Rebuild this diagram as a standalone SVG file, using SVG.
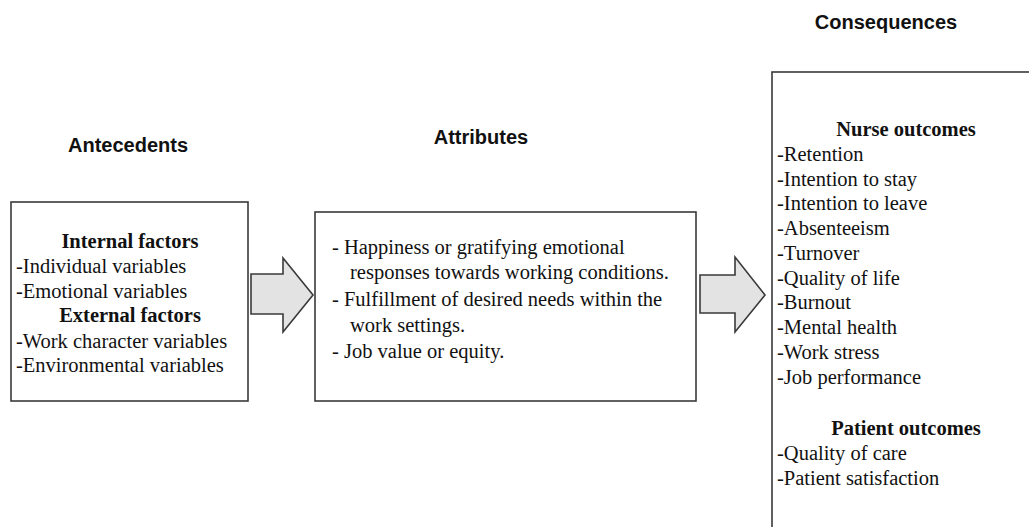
<svg xmlns="http://www.w3.org/2000/svg" width="1029" height="527" viewBox="0 0 1029 527">
<style>
.box{fill:#fff;stroke:#3a3a3a;stroke-width:1.6}
.arr{fill:#e3e3e3;stroke:#3a3a3a;stroke-width:1.6;stroke-linejoin:miter}
.h{font-family:"Liberation Sans",Arial,sans-serif;font-weight:bold;font-size:20px;fill:#111;text-anchor:middle}
.t{font-family:"Liberation Serif","Times New Roman",serif;font-size:20.5px;fill:#111}
.b{font-weight:bold;text-anchor:middle}
</style>
<rect width="1029" height="527" fill="#fff"/>
<text class="h" x="886" y="29">Consequences</text>
<text class="h" x="128" y="152">Antecedents</text>
<text class="h" x="481" y="144">Attributes</text>
<g id="antecedents">
<rect class="box" x="11" y="202" width="237" height="199"/>
<text class="t b" x="130" y="248">Internal  factors</text>
<text class="t" x="16" y="273">-Individual  variables</text>
<text class="t" x="16" y="298">-Emotional  variables</text>
<text class="t b" x="130" y="322">External factors</text>
<text class="t" x="16" y="348">-Work  character  variables</text>
<text class="t" x="16" y="372">-Environmental  variables</text>
</g>
<g id="attributes">
<rect class="box" x="315" y="212" width="381" height="189"/>
<text class="t" x="332" y="254">-  Happiness or gratifying emotional</text>
<text class="t" x="350" y="279">responses towards working conditions.</text>
<text class="t" x="332" y="306">-  Fulfillment of desired needs within the</text>
<text class="t" x="350" y="332">work settings.</text>
<text class="t" x="332" y="358">-  Job value or equity.</text>
</g>
<g id="consequences">
<rect class="box" x="772" y="72" width="280" height="480"/>
<text class="t b" x="906" y="136">Nurse outcomes</text>
<text class="t" x="777" y="161">-Retention</text>
<text class="t" x="777" y="186">-Intention to stay</text>
<text class="t" x="777" y="210">-Intention to leave</text>
<text class="t" x="777" y="235">-Absenteeism</text>
<text class="t" x="777" y="260">-Turnover</text>
<text class="t" x="777" y="285">-Quality of life</text>
<text class="t" x="777" y="309">-Burnout</text>
<text class="t" x="777" y="334">-Mental health</text>
<text class="t" x="777" y="359">-Work stress</text>
<text class="t" x="777" y="384">-Job performance</text>
<text class="t b" x="906" y="435">Patient outcomes</text>
<text class="t" x="777" y="460">-Quality of care</text>
<text class="t" x="777" y="485">-Patient satisfaction</text>
</g>
<g id="connectors">
<path class="arr" d="M251,274 H283 V258 L313,295 L283,332 V314 H251 Z"/>
<path class="arr" d="M700,275 H735 V257 L765,295 L735,332 V313 H700 Z"/>
</g>
</svg>
